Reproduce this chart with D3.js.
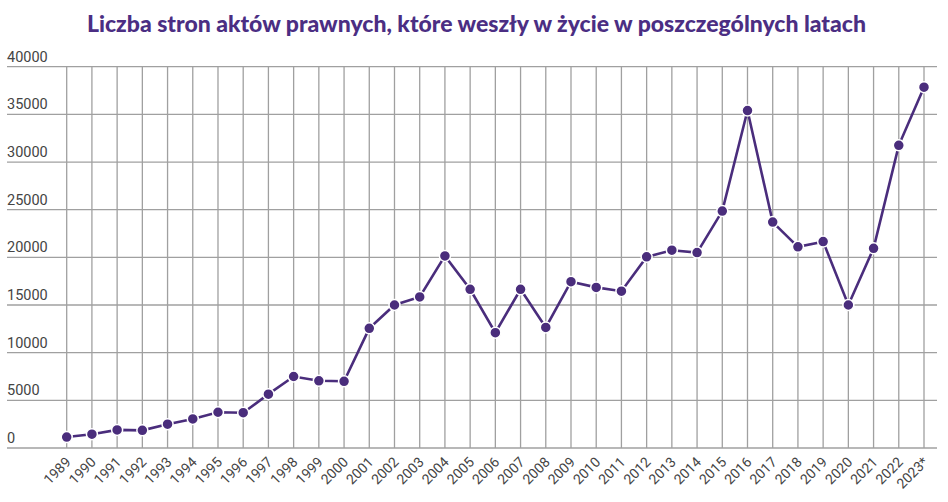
<!DOCTYPE html>
<html><head><meta charset="utf-8">
<script src="https://cdn.jsdelivr.net/npm/d3@7"></script>
<style>body{margin:0;background:#fff}svg{display:block}</style>
</head><body><svg id="c" width="948" height="502"></svg>
<script>
const years = ["1989","1990","1991","1992","1993","1994","1995","1996","1997","1998","1999","2000","2001","2002","2003","2004","2005","2006","2007","2008","2009","2010","2011","2012","2013","2014","2015","2016","2017","2018","2019","2020","2021","2022","2023*"];
const pages = [1150,1450,1900,1850,2500,3050,3750,3700,5650,7500,7050,7000,12550,15000,15850,20150,16650,12100,16650,12650,17450,16850,16450,20050,20750,20500,24850,35400,23700,21100,21650,15000,20950,31750,37850];
const yTicks = [0,5000,10000,15000,20000,25000,30000,35000,40000];
const title = "Liczba stron aktów prawnych, które weszły w życie w poszczególnych latach";

const svg = d3.select("#c");
const x = d3.scalePoint().domain(years).range([66.7, 924]);
const y = d3.scaleLinear().domain([0, 40000]).range([448, 66.7]);
const purple = "#4a2d7c";

svg.append("text").attr("x", 87).attr("y", 32)
  .attr("textLength", 779).attr("lengthAdjust", "spacingAndGlyphs")
  .attr("font-family", "Lato, 'Noto Sans', sans-serif").attr("font-weight", 900)
  .attr("font-size", 22).attr("fill", "#4b2e83").text(title);

// horizontal grid
svg.append("g").selectAll("line").data(yTicks).join("line")
  .attr("x1", 7).attr("x2", 937).attr("y1", d => y(d)).attr("y2", d => y(d))
  .attr("stroke", "#a0a0a0").attr("stroke-width", 1.3);
// vertical grid
svg.append("g").selectAll("line").data(years).join("line")
  .attr("x1", d => x(d)).attr("x2", d => x(d)).attr("y1", y(40000)).attr("y2", y(0))
  .attr("stroke", "#a0a0a0").attr("stroke-width", 1.3);

// y labels
svg.append("g").selectAll("text").data(yTicks).join("text")
  .attr("x", 7).attr("y", d => y(d) - 5)
  .attr("font-family", "Roboto, sans-serif").attr("font-size", 14.5).attr("fill", "#444")
  .text(d => d);

// x labels
svg.append("g").selectAll("text").data(years).join("text")
  .attr("transform", d => `translate(${x(d) + 5},${y(0) + 15}) rotate(-45)`)
  .attr("text-anchor", "end")
  .attr("font-family", "Roboto, sans-serif").attr("font-size", 14).attr("fill", "#444")
  .text(d => d);

const line = d3.line().x((d, i) => x(years[i])).y(d => y(d));
svg.append("path").datum(pages).attr("d", line).attr("fill", "none")
  .attr("stroke", purple).attr("stroke-width", 2.6);

svg.append("g").selectAll("circle").data(pages).join("circle")
  .attr("cx", (d, i) => x(years[i])).attr("cy", d => y(d)).attr("r", 5.5)
  .attr("fill", purple).attr("stroke", "#fff").attr("stroke-width", 1.5);
</script></body></html>
